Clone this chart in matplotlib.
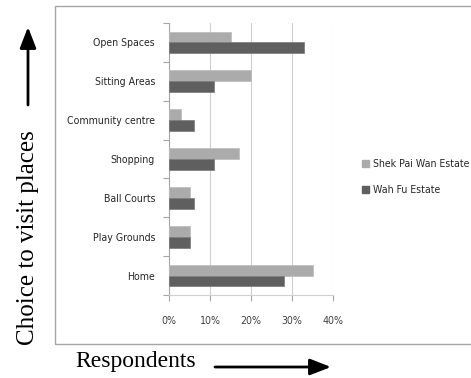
import matplotlib
matplotlib.use("Agg")
import matplotlib.pyplot as plt
import numpy as np
from matplotlib.patches import Rectangle, FancyArrowPatch
from matplotlib import font_manager as fm

categories = ["Open Spaces", "Sitting Areas", "Community centre", "Shopping",
              "Ball Courts", "Play Grounds", "Home"]
shek_pai_wan = [15, 20, 3, 17, 5, 5, 35]
wah_fu = [33, 11, 6, 11, 6, 5, 28]
series_names = ["Shek Pai Wan Estate", "Wah Fu Estate"]
xticks = [0, 10, 20, 30, 40]
xtick_labels = ["0%", "10%", "20%", "30%", "40%"]

serif = ["Liberation Serif", "DejaVu Serif"]
narrow_fp = fm.FontProperties(family=["DejaVu Sans"], stretch="condensed", size=7.6)

fig = plt.figure(figsize=(4.71, 3.78), dpi=100)
fig.patch.set_facecolor("white")

# outer chart frame
fig.add_artist(Rectangle((55 / 471, 1 - 344 / 378), 1.0, (344 - 6) / 378,
                         transform=fig.transFigure, fill=False,
                         edgecolor="#a6a6a6", linewidth=1.0))

ax = fig.add_axes([169 / 471, 1 - 295 / 378, (333 - 169) / 471, (295 - 23) / 378])
n = len(categories)
y = np.arange(n)[::-1].astype(float)
h = 0.28
ax.barh(y + h / 2, shek_pai_wan, height=h, color="#ababab", edgecolor="#bdbdbd",
        linewidth=0.5, label=series_names[0], zorder=3)
ax.barh(y - h / 2, wah_fu, height=h, color="#5f5f5f", edgecolor="#7a7a7a",
        linewidth=0.5, label=series_names[1], zorder=3)

ax.set_xlim(0, 40)
ax.set_ylim(-0.5, n - 0.5)
ax.set_xticks(xticks)
ax.set_xticklabels(xtick_labels, fontproperties=narrow_fp, color="#404040")
ax.set_yticks(y)
ax.set_yticklabels(categories, fontproperties=narrow_fp, color="#262626")
ax.set_yticks(np.arange(n + 1) - 0.5, minor=True)
ax.tick_params(axis="y", which="major", length=0, pad=10)
ax.tick_params(axis="y", which="minor", length=4, color="#a6a6a6", width=0.8, direction="out")
ax.tick_params(axis="x", which="major", length=4, color="#a6a6a6", width=0.8, pad=11)
ax.grid(axis="x", color="#cfcfcf", linewidth=0.8, zorder=0)
for s in ["top", "right"]:
    ax.spines[s].set_visible(False)
ax.spines["left"].set_color("#a6a6a6")
ax.spines["bottom"].set_color("#d0d0d0")
ax.spines["left"].set_linewidth(0.8)
ax.spines["bottom"].set_linewidth(0.8)

# legend
handles = [Rectangle((0, 0), 1, 1, color="#ababab"), Rectangle((0, 0), 1, 1, color="#5f5f5f")]
fig.legend(handles, series_names, loc="center left", bbox_to_anchor=(352 / 471, 1 - 177 / 378),
           frameon=False, prop=narrow_fp, handlelength=0.7,
           handleheight=0.7, handletextpad=0.35, labelspacing=1.5, labelcolor="#262626")

# outer labels with arrows
fig.text(28 / 471, 1 - 238 / 378, "Choice to visit places", rotation=90,
         ha="center", va="center", fontfamily=serif, fontsize=18)
fig.add_artist(FancyArrowPatch((28 / 471, 1 - 105 / 378), (28 / 471, 1 - 27 / 378),
                               transform=fig.transFigure, arrowstyle="-|>,head_length=8.5,head_width=3.3",
                               color="black", linewidth=2.0, mutation_scale=1.5,
                               shrinkA=0, shrinkB=0))
fig.text(75 / 471, 1 - 362 / 378, "Respondents", ha="left", va="center",
         fontfamily=serif, fontsize=17)
fig.add_artist(FancyArrowPatch((215 / 471, 1 - 367 / 378), (331 / 471, 1 - 367 / 378),
                               transform=fig.transFigure, arrowstyle="-|>,head_length=8.5,head_width=3.3",
                               color="black", linewidth=2.0, mutation_scale=1.5,
                               shrinkA=0, shrinkB=0))

fig.savefig("out.png", dpi=100, facecolor="white")
